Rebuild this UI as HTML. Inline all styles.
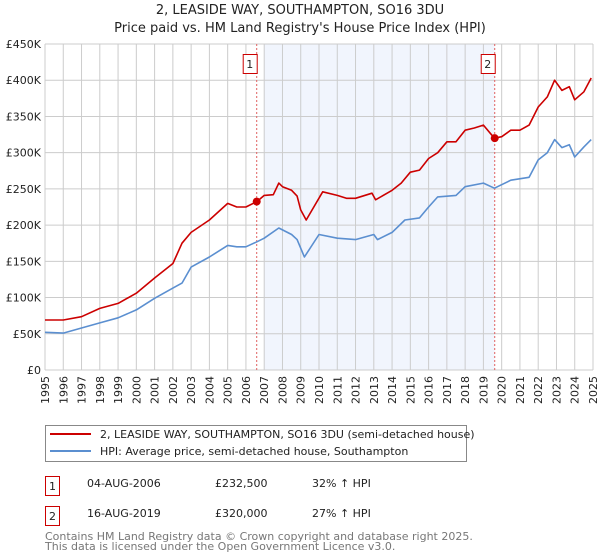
<!DOCTYPE html>
<html><head><meta charset="utf-8"><style>
body{margin:0;background:#fff;font-family:"DejaVu Sans","Liberation Sans",sans-serif;}
svg{display:block}
</style></head><body>
<svg id="chart" width="600" height="560" xmlns="http://www.w3.org/2000/svg" font-family="DejaVu Sans, Liberation Sans, sans-serif">
<text x="300" y="14" text-anchor="middle" font-size="13" fill="#222">2, LEASIDE WAY, SOUTHAMPTON, SO16 3DU</text>
<text x="300" y="32" text-anchor="middle" font-size="13" fill="#222">Price paid vs. HM Land Registry's House Price Index (HPI)</text>
<g id="plot"></g>
<g>
<rect x="45.5" y="425.5" width="421" height="36" fill="#fff" stroke="#888"/>
<line x1="50" y1="434" x2="91" y2="434" stroke="#cc0000" stroke-width="2"/>
<text x="100" y="438" font-size="11" fill="#222">2, LEASIDE WAY, SOUTHAMPTON, SO16 3DU (semi-detached house)</text>
<line x1="50" y1="451" x2="91" y2="451" stroke="#5b8fd0" stroke-width="2"/>
<text x="100" y="455" font-size="11" fill="#222">HPI: Average price, semi-detached house, Southampton</text>
</g>
<g font-size="11" fill="#222">
<rect x="45.5" y="476.5" width="14" height="19" fill="#fff" stroke="#cc0000"/>
<text x="52.5" y="490" text-anchor="middle">1</text>
<text x="87" y="487">04-AUG-2006</text>
<text x="215" y="487">£232,500</text>
<text x="312" y="487">32% ↑ HPI</text>
<rect x="45.5" y="506.5" width="14" height="19" fill="#fff" stroke="#cc0000"/>
<text x="52.5" y="520" text-anchor="middle">2</text>
<text x="87" y="517">16-AUG-2019</text>
<text x="215" y="517">£320,000</text>
<text x="312" y="517">27% ↑ HPI</text>
</g>
<text x="45" y="540" font-size="11" fill="#777">Contains HM Land Registry data © Crown copyright and database right 2025.</text>
<text x="45" y="550" font-size="11" fill="#777">This data is licensed under the Open Government Licence v3.0.</text>
</svg>
<script>
const yTicks=[0,50000,100000,150000,200000,250000,300000,350000,400000,450000];
const yTickLabels=["£0","£50K","£100K","£150K","£200K","£250K","£300K","£350K","£400K","£450K"];
const xYears=[1995,1996,1997,1998,1999,2000,2001,2002,2003,2004,2005,2006,2007,2008,2009,2010,2011,2012,2013,2014,2015,2016,2017,2018,2019,2020,2021,2022,2023,2024,2025];
const redT=[1995,1996,1997,1998,1999,2000,2001,2002,2002.5,2003,2004,2005,2005.5,2006,2006.6,2007,2007.5,2007.8,2008,2008.5,2008.8,2009.0,2009.3,2010.2,2011,2011.5,2012,2012.9,2013.1,2014,2014.5,2015,2015.5,2016,2016.5,2017,2017.5,2018,2018.5,2019,2019.6,2020,2020.5,2021,2021.5,2022,2022.5,2022.9,2023.3,2023.7,2024,2024.5,2024.9];
const redV=[69000,69000,73600,85000,92000,106000,127000,147000,175000,190000,207000,230000,225000,225000,232500,241000,242000,258000,253000,248000,240000,221000,207000,246000,241000,237000,237000,244000,235000,248000,258000,273000,276000,292000,300000,315000,315000,331000,334000,338000,320000,322000,331000,331000,338000,363000,377000,400000,386000,391000,373000,384000,403000];
const blueT=[1995,1996,1997,1998,1999,2000,2001,2002,2002.5,2003,2004,2005,2005.5,2006,2006.6,2007,2007.8,2008.5,2008.8,2009.2,2010,2011,2012,2013,2013.2,2014,2014.7,2015.5,2016,2016.5,2017.5,2018,2019,2019.6,2020.5,2021.5,2022,2022.5,2022.9,2023.3,2023.7,2024,2024.5,2024.9];
const blueV=[52000,51000,58000,65000,72000,83000,99000,113000,120000,142000,156000,172000,170000,170000,177000,182000,196000,187000,180000,156000,187000,182000,180000,187000,180000,190000,207000,210000,225000,239000,241000,253000,258000,251000,262000,266000,290000,300000,318000,307000,311000,294000,308000,318000];
const saleT=[2006.59,2019.62];
const saleV=[232500,320000];
const saleLabels=["1","2"];
const X0=45,X1=593,Y0=370,Y1=44;
const xs=t=>X0+(t-1995)/30*(X1-X0);
const ys=v=>Y0-v/450000*(Y0-Y1);
const NS="http://www.w3.org/2000/svg";
const plot=document.getElementById('plot');
function mk(tag,attrs,parent){const e=document.createElementNS(NS,tag);for(const k in attrs)e.setAttribute(k,attrs[k]);(parent||plot).appendChild(e);return e;}
let sh=mk('rect',{x:xs(2007),y:Y1,width:xs(2019.62)-xs(2007),height:Y0-Y1,fill:'#eef3fc',opacity:0.8});


xYears.forEach(yr=>{
 let g=mk('line',{x1:xs(yr),x2:xs(yr),y1:Y1,y2:Y0,stroke:'#ccc','stroke-width':1});
 
 
 let t=mk('text',{x:0,y:0,'font-size':11,fill:'#222','text-anchor':'end',transform:`translate(${xs(yr)+4},${Y0+6}) rotate(-90)`});
 t.textContent=yr;
 
 
});
yTicks.forEach((v,i)=>{
 let g=mk('line',{x1:X0,x2:X1,y1:ys(v),y2:ys(v),stroke:'#ccc','stroke-width':1});
 
 
 let t=mk('text',{x:X0-4,y:ys(v)+4,'font-size':11,fill:'#222','text-anchor':'end'});
 t.textContent=yTickLabels[i];
 
 
});
saleT.forEach((t,i)=>{
 let l=mk('line',{x1:xs(t),x2:xs(t),y1:Y1,y2:Y0,stroke:'#e06060','stroke-width':1,'stroke-dasharray':'2,2'});
 
 
 let r=mk('rect',{x:xs(t)-14+0.5,y:54.5,width:14,height:19,fill:'#fff',stroke:'#cc0000'});
 
 
 let tx=mk('text',{x:xs(t)-7,y:68,'font-size':11,fill:'#222','text-anchor':'middle'});
 tx.textContent=saleLabels[i];
 
 
});
function path(T,V,col,name){
 let d=T.map((t,i)=>(i?'L':'M')+xs(t).toFixed(1)+','+ys(V[i]).toFixed(1)).join('');
 let p=mk('path',{d:d,fill:'none',stroke:col,'stroke-width':1.6,'stroke-linejoin':'round'});
 
 
}
path(blueT,blueV,'#5b8fd0','hpi-line');
path(redT,redV,'#cc0000','property-price-line');
saleT.forEach((t,i)=>{
 let c=mk('circle',{cx:xs(t),cy:ys(saleV[i]),r:4,fill:'#cc0000'});
 
 
});
</script>
</body></html>
